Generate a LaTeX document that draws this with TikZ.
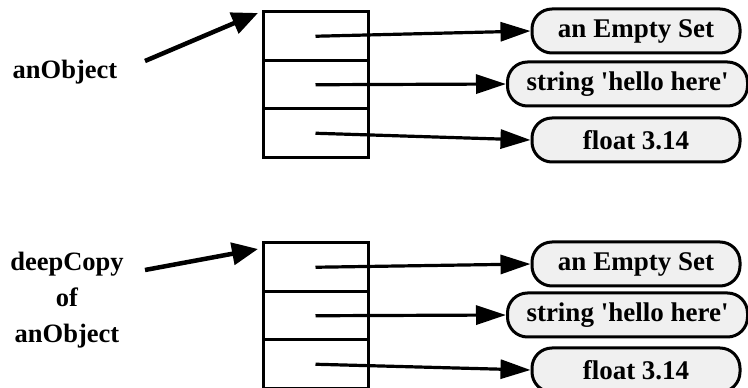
\documentclass[tikz,border=0pt]{standalone}
\usepackage{fontspec}
\newfontfamily\figfont{Liberation Serif}
\usetikzlibrary{arrows.meta,positioning}

\begin{document}
\begin{tikzpicture}[x=1pt, y=1pt, line width=3pt,
  cell/.style={draw, minimum width=105pt, minimum height=48.5pt, inner sep=0pt, outer sep=0pt},
  val/.style={draw, rounded corners=20pt, fill=black!6, minimum height=44pt, inner sep=0pt,
    font=\figfont\fontsize{27}{30}\selectfont\bfseries},
  ptr/.style={-{Triangle[length=30pt,width=19pt]}, line width=3.2pt},
  refarrow/.style={-{Triangle[length=26pt,width=22pt]}, line width=4.5pt},
  varname/.style={align=center, font=\figfont\fontsize{26.5}{36}\selectfont\bfseries}]
  \useasboundingbox (0,0) rectangle (748,388);

  % the original object
  \begin{scope}
    \node[cell] (o1) at (315.5,351.75) {};
    \node[cell, below=0pt of o1] (o2) {};
    \node[cell, below=0pt of o2] (o3) {};
    \node[val, minimum width=208pt] (e1) at (636,357) {an Empty Set};
    \node[val, minimum width=240pt] (s1) at (627.5,304) {string 'hello here'};
    \node[val, minimum width=208pt] (f1) at (636,248) {float 3.14};
    \draw[ptr] (o1.center) -- (e1.west);
    \draw[ptr] (o2.center) -- (s1.west);
    \draw[ptr] (o3.center) -- (f1.west);
    \node[varname] (n1) at (65,315.5) {anObject};
    \coordinate (a1) at (145,327);
    \draw[refarrow] (a1) -- ([shift={(-5pt,-1pt)}]o1.north west);
  \end{scope}

  % the deep copy
  \begin{scope}
    \node[cell] (o4) at (315.5,120.75) {};
    \node[cell, below=0pt of o4] (o5) {};
    \node[cell, below=0pt of o5] (o6) {};
    \node[val, minimum width=208pt] (e2) at (636,124) {an Empty Set};
    \node[val, minimum width=240pt] (s2) at (627.5,73) {string 'hello here'};
    \node[val, minimum width=208pt] (f2) at (636,18) {float 3.14};
    \draw[ptr] (o4.center) -- (e2.west);
    \draw[ptr] (o5.center) -- (s2.west);
    \draw[ptr] (o6.center) -- (f2.west);
    \node[varname] (n2) at (67,88) {deepCopy\\of\\anObject};
    \coordinate (a2) at (145,118);
    \draw[refarrow] (a2) -- ([shift={(-5pt,-6pt)}]o4.north west);
  \end{scope}
\end{tikzpicture}
\end{document}
